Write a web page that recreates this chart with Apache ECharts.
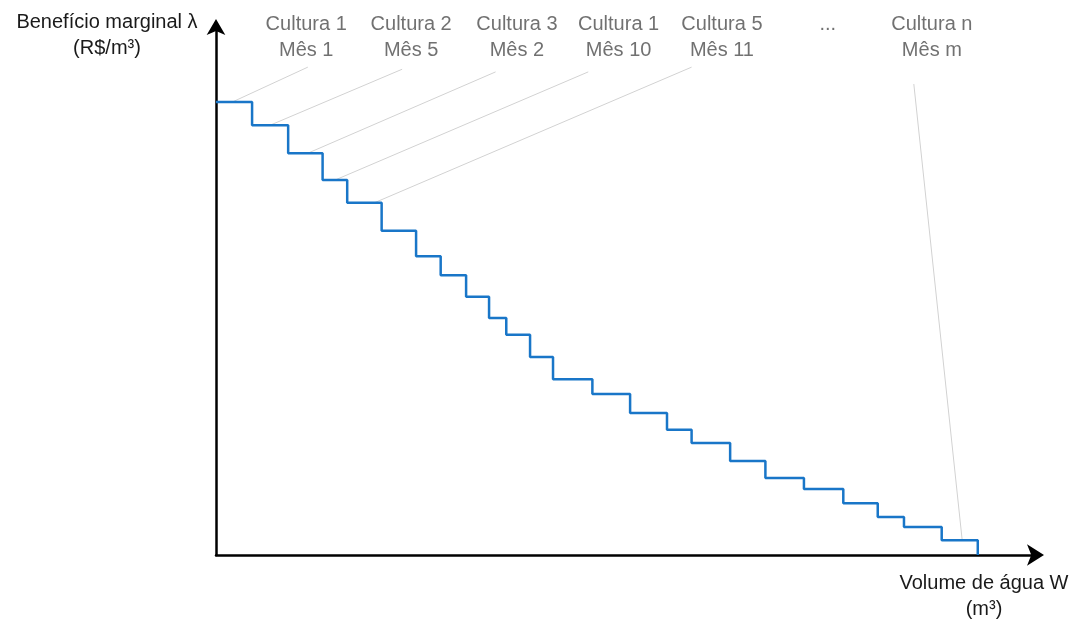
<!DOCTYPE html>
<html>
<head>
<meta charset="utf-8"/>
<title>Benefício marginal</title>
<script src="https://cdn.jsdelivr.net/npm/echarts@6/dist/echarts.min.js"></script>
<style>
  html, body { margin: 0; padding: 0; background: #fff; }
  #chart { width: 1083px; height: 619px; }
</style>
</head>
<body>
<div id="chart"></div>
<script type="text/javascript">
// degraus da curva (volume acumulado, benefício marginal) em unidades relativas 0-100
var stepX = [0, 4.4, 8.8, 13.0, 16.0, 20.2, 24.4, 27.4, 30.5, 33.3, 35.4, 38.3, 41.1,
             45.9, 50.5, 55.0, 58.0, 62.7, 67.0, 71.7, 76.5, 80.7, 83.9, 88.5, 92.9];
var stepY = [85.8, 81.4, 76.1, 71.0, 66.7, 61.4, 56.6, 53.0, 48.9, 44.9, 41.7, 37.5, 33.3,
             30.5, 26.9, 23.7, 21.2, 17.8, 14.6, 12.5, 9.8, 7.2, 5.3, 2.8, 0];

// rótulos do topo
var culturas = ['Cultura 1', 'Cultura 2', 'Cultura 3', 'Cultura 1', 'Cultura 5', '...', 'Cultura n'];
var meses = ['Mês 1', 'Mês 5', 'Mês 2', 'Mês 10', 'Mês 11', ' ', 'Mês m'];
var labelX = [11.0, 23.8, 36.7, 49.1, 61.7, 74.6, 87.3];
var labelY = 98.1;

// linhas de chamada: ponta superior -> degrau
var leaderTop = [[11.2, 92.4], [22.7, 92.0], [34.1, 91.5], [45.4, 91.5], [58.0, 92.4], [85.1, 89.2]];
var leaderEnd = [[2.0, 85.8], [6.6, 81.4], [11.2, 76.1], [14.5, 71.0], [19.3, 66.7], [91.0, 2.8]];

var stepData = stepX.map(function (x, i) { return [x, stepY[i]]; });
var labelData = labelX.map(function (x, i) {
  return { value: [x, labelY], name: culturas[i] + '\n' + meses[i] };
});
var leaderData = leaderTop.map(function (p, i) { return { coords: [p, leaderEnd[i]] }; });

var myChart = echarts.init(document.getElementById('chart'));
var font = '"Liberation Sans", Arial, sans-serif';
var option = {
  animation: false,
  grid: { left: 216, right: 47, top: 27, bottom: 64 },
  xAxis: {
    type: 'value', min: 0, max: 100,
    axisLine: { lineStyle: { color: '#000', width: 2.5 }, symbol: ['none', 'arrow'], symbolSize: [16, 17], symbolOffset: [0, 8] },
    axisTick: { show: false }, axisLabel: { show: false }, splitLine: { show: false }
  },
  yAxis: {
    type: 'value', min: 0, max: 100,
    axisLine: { lineStyle: { color: '#000', width: 2.5 }, symbol: ['none', 'arrow'], symbolSize: [14, 16], symbolOffset: [0, 8] },
    axisTick: { show: false }, axisLabel: { show: false }, splitLine: { show: false }
  },
  graphic: [
    { type: 'text', x: 107, y: 35, style: { text: 'Benefício marginal λ\n(R$/m³)', font: '20px ' + font, fill: '#1a1a1a', align: 'center', verticalAlign: 'middle', lineHeight: 26 } },
    { type: 'text', x: 984, y: 596, style: { text: 'Volume de água W\n(m³)', font: '20px ' + font, fill: '#1a1a1a', align: 'center', verticalAlign: 'middle', lineHeight: 26 } }
  ],
  series: [
    {
      type: 'lines', coordinateSystem: 'cartesian2d', silent: true,
      lineStyle: { color: '#d2d2d2', width: 1, opacity: 1 },
      data: leaderData, z: 1
    },
    {
      type: 'line', step: 'end', data: stepData, showSymbol: false, z: 3,
      lineStyle: { color: '#1976c8', width: 2.5 }
    },
    {
      type: 'scatter', data: labelData, symbolSize: 0, clip: false, silent: true,
      label: {
        show: true, position: 'inside', formatter: '{b}',
        fontFamily: font, fontSize: 20, color: '#4d4d4d', lineHeight: 26, align: 'center'
      }
    }
  ]
};
myChart.setOption(option);
</script>
</body>
</html>
